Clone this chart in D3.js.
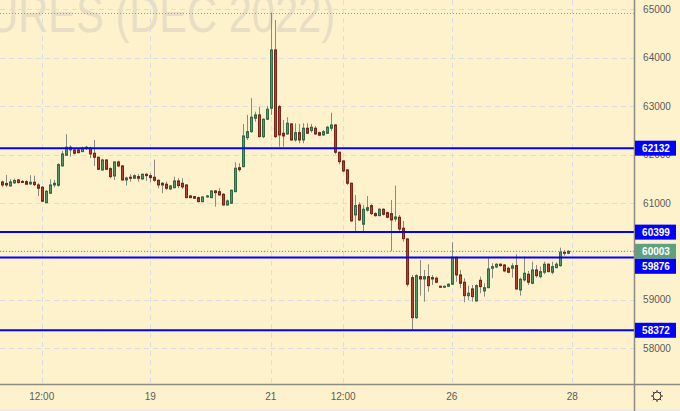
<!DOCTYPE html>
<html>
<head>
<meta charset="utf-8">
<script src="https://cdn.jsdelivr.net/npm/d3@7"></script>
<style>
  html, body { margin: 0; padding: 0; background: #fef2cd; }
  svg { display: block; font-family: "Liberation Sans", Arial, sans-serif; }
</style>
</head>
<body>
<svg id="chart" width="680" height="411"></svg>
<script>
// hourly candles
const opens = [61435,61404,61353,61415,61476,61446,61441,61394,61429,61373,61326,61008,61202,61373,61367,61766,61987,62096,62096,62096,
  62061,62137,62131,62028,61945,61683,61889,61710,61559,61848,61766,61476,61532,61512,61545,61497,61594,61565,61532,61470,
  61408,61388,61291,61317,61456,61408,61373,61146,61132,61111,61028,61125,61111,61249,61235,61181,60960,60995,61235,61730,
  61751,62350,62474,62751,62819,62371,62730,62957,64161,62990,62441,62426,62633,62302,62453,62302,62544,62495,62544,62453,
  62406,62441,62544,62612,62048,61869,61683,61408,60754,60960,60562,60851,60946,60781,60739,60871,60801,60781,60671,60706,
  60479,60258,59459,58633,59480,59432,59480,59459,59447,59281,59267,59281,59323,59880,59515,59364,59087,59226,58978,59405,
  59184,59252,59653,59680,59736,59721,59653,59653,59707,59205,59411,59529,59343,59618,59480,59570,59736,59570,59665,59707,
  59983,59963];
const highs = [61462,61580,61491,61503,61491,61476,61470,61574,61565,61408,61353,61270,61491,61476,61821,62075,62420,62193,62131,62131,
  62164,62179,62164,62302,61958,61916,61904,61739,61863,61875,61786,61545,61594,61594,61600,61607,61615,61615,61896,61483,
  61429,61441,61373,61545,61512,61512,61388,61167,61146,61132,61140,61167,61264,61270,61305,61202,61070,61276,61842,61821,
  62633,62819,63164,62887,62990,62751,63005,64931,64780,63025,62715,62771,62647,62647,62633,62647,62647,62633,62592,62474,
  62509,62592,62866,62627,62061,61883,61704,61421,61167,61016,60960,61146,60975,60809,60892,60892,60822,61063,61359,60754,
  60630,60279,59515,59529,59824,59618,59736,59515,59480,59294,59294,59343,60190,59893,59618,59447,59294,59308,59323,59480,
  59343,59860,59756,59756,59756,59736,59686,59756,59942,59459,59893,59597,59789,59721,59686,59789,59756,59789,59777,60078,
  60031,60025];
const lows = [61326,61332,61338,61400,61408,61421,61379,61373,61353,61146,61028,60995,61195,61326,61338,61751,61980,61958,61999,62028,
  62055,62096,61925,61766,61683,61669,61683,61512,61476,61739,61462,61359,61441,61497,61441,61483,61456,61429,61441,61305,
  61202,61270,61270,61305,61305,61291,61099,61099,61084,61016,61016,61111,61099,60925,61152,60946,60946,60987,61222,61648,
  61735,62302,62453,62680,62358,62338,62715,62819,62344,62164,62164,62406,62288,62267,62234,62234,62426,62453,62406,62385,
  62385,62426,62488,62007,61801,61635,61373,60615,60423,60630,60423,60822,60754,60719,60727,60739,60686,60010,60615,60409,
  60202,59273,58385,58606,59087,58963,59170,59308,59343,59252,59252,59267,59308,59376,59240,58951,58998,58963,58963,59137,
  59067,59240,59447,59653,59686,59570,59550,59459,59205,59087,59376,59308,59323,59459,59447,59529,59570,59529,59653,59686,
  59913,59942];
const closes = [61373,61373,61435,61466,61421,61435,61388,61429,61379,61305,61037,61243,61373,61408,61792,62013,62152,62152,62028,62040,
  62131,62152,62013,61945,61697,61889,61697,61545,61848,61766,61476,61518,61512,61565,61512,61594,61565,61524,61470,61373,
  61373,61305,61353,61456,61359,61332,61111,61111,61099,61028,61125,61146,61249,61214,61167,60960,61043,61264,61718,61689,
  62385,62474,62771,62819,62371,62730,62936,64161,62371,62406,62385,62647,62302,62453,62302,62544,62441,62565,62426,62400,
  62474,62565,62612,62048,61854,61662,61408,60630,60946,60650,60871,60904,60781,60739,60871,60768,60706,60650,60712,60465,
  60264,59323,58633,59500,59432,59480,59294,59432,59364,59267,59281,59323,59880,59515,59343,59087,59137,59067,59294,59273,
  59252,59639,59686,59736,59707,59597,59570,59701,59226,59426,59550,59364,59618,59500,59583,59736,59583,59686,59736,59983,
  59963,60003];

const tickIdx = [10, 37, 67, 85, 112, 142];
const tickText = ['12:00', '19', '21', '12:00', '26', '28'];
const priceTicks = [58000, 59000, 60000, 61000, 62000, 63000, 64000, 65000];
const levels = [62132, 60399, 59876, 58372];
const lastPrice = 60003;
const watermark = 'FUTURES (DEC 2022)';

const W = 680, H = 411;
const plotR = 634, plotB = 384;

const svg = d3.select('#chart');

const x = d3.scaleLinear().domain([0, 142]).range([1.5, 572.3]);
const y = d3.scaleLinear().domain([58000, 65000]).range([348.3, 9.3]);

svg.append('rect').attr('width', W).attr('height', H).attr('fill', '#fef2cd');
svg.append('rect').attr('x', 0).attr('y', 409).attr('width', W).attr('height', 2).attr('fill', '#e8ebf0');

svg.append('defs').append('clipPath').attr('id', 'plot')
  .append('rect').attr('width', plotR).attr('height', plotB);

const plot = svg.append('g').attr('clip-path', 'url(#plot)');

// watermark (condensed, top cut by the pane edge)
plot.append('text')
  .attr('transform', 'translate(335,32) scale(0.8,1)')
  .attr('text-anchor', 'end')
  .attr('font-size', 52)
  .attr('fill', '#e8dec3')
  .text(watermark);

// grid
plot.append('g').selectAll('line').data(priceTicks).enter().append('line')
  .attr('x1', 0).attr('x2', plotR)
  .attr('y1', d => Math.round(y(d)) + 0.5).attr('y2', d => Math.round(y(d)) + 0.5)
  .attr('stroke', '#dcdde2').attr('stroke-dasharray', '5,4');

plot.append('g').selectAll('line').data(tickIdx).enter().append('line')
  .attr('x1', d => Math.round(x(d)) + 0.5).attr('x2', d => Math.round(x(d)) + 0.5)
  .attr('y1', 0).attr('y2', plotB)
  .attr('stroke', '#dcdde2').attr('stroke-dasharray', '5,4');

// session high line
const hi = d3.max(highs);
plot.append('line')
  .attr('x1', 0).attr('x2', plotR)
  .attr('y1', Math.round(y(hi)) + 0.5).attr('y2', Math.round(y(hi)) + 0.5)
  .attr('stroke', '#9a9a90').attr('stroke-dasharray', '1,2');

// last price line
plot.append('line')
  .attr('x1', 0).attr('x2', plotR)
  .attr('y1', y(lastPrice)).attr('y2', y(lastPrice))
  .attr('stroke', '#4f9c87').attr('stroke-dasharray', '1,2');

// candles
const idx = d3.range(opens.length);
const candles = plot.append('g');

candles.selectAll('line').data(idx).enter().append('line')
  .attr('x1', i => Math.round(x(i)) + 0.5).attr('x2', i => Math.round(x(i)) + 0.5)
  .attr('y1', i => y(highs[i])).attr('y2', i => y(lows[i]))
  .attr('stroke', '#8b8a82');

candles.selectAll('rect').data(idx).enter().append('rect')
  .attr('x', i => Math.round(x(i)) - 0.5)
  .attr('width', 2)
  .attr('y', i => y(Math.max(opens[i], closes[i])))
  .attr('height', i => Math.max(1, Math.abs(y(opens[i]) - y(closes[i]))))
  .attr('fill', i => closes[i] >= opens[i] ? '#519b6b' : '#b9402f')
  .attr('stroke', i => closes[i] >= opens[i] ? '#2f6a45' : '#7a2417')
  .attr('stroke-width', 1);

// horizontal levels
plot.append('g').selectAll('line').data(levels).enter().append('line')
  .attr('x1', 0).attr('x2', plotR)
  .attr('y1', d => y(d)).attr('y2', d => y(d))
  .attr('stroke', '#0000ff').attr('stroke-width', 2);

// axis borders
svg.append('line').attr('x1', plotR + 0.5).attr('x2', plotR + 0.5).attr('y1', 0).attr('y2', H)
  .attr('stroke', '#8d8c84').attr('stroke-width', 1.5);
svg.append('line').attr('x1', 0).attr('x2', W).attr('y1', plotB + 0.5).attr('y2', plotB + 0.5)
  .attr('stroke', '#8d8c84').attr('stroke-width', 1.5);

// price axis
svg.append('g').selectAll('text').data(priceTicks).enter().append('text')
  .attr('x', 657).attr('y', d => y(d) + 3.5)
  .attr('text-anchor', 'middle')
  .attr('font-size', 10)
  .attr('fill', '#5b5b5b')
  .text(d => d);

// time axis
svg.append('g').selectAll('text').data(tickIdx).enter().append('text')
  .attr('x', d => x(d)).attr('y', 400)
  .attr('text-anchor', 'middle')
  .attr('font-size', 10)
  .attr('fill', '#5b5b5b')
  .text((d, i) => tickText[i]);

// price labels, pushed apart when they overlap
const boxH = 15;
const labels = levels.map(v => ({ v, c: '#0000ff' }))
  .concat([{ v: lastPrice, c: '#5fa17f' }])
  .map(d => Object.assign(d, { cy: y(d.v) }))
  .sort((a, b) => a.cy - b.cy);
let prevBottom = -Infinity;
labels.forEach(d => {
  let top = d.cy - boxH / 2;
  if (top < prevBottom) top = prevBottom;
  d.top = top;
  prevBottom = top + boxH;
});

const lab = svg.append('g').selectAll('g').data(labels).enter().append('g');
lab.append('rect')
  .attr('x', plotR + 1).attr('y', d => d.top)
  .attr('width', 41).attr('height', boxH)
  .attr('fill', d => d.c);
lab.append('text')
  .attr('x', 656).attr('y', d => d.top + 11)
  .attr('text-anchor', 'middle')
  .attr('font-size', 10).attr('font-weight', 'bold')
  .attr('fill', '#ffffff')
  .text(d => d.v);

// settings icon
const gear = svg.append('g').attr('transform', 'translate(657,396)')
  .attr('stroke', '#333').attr('fill', 'none');
gear.append('circle').attr('r', 4);
d3.range(8).forEach(k => {
  const a = k * Math.PI / 4;
  gear.append('line')
    .attr('x1', Math.cos(a) * 4).attr('y1', Math.sin(a) * 4)
    .attr('x2', Math.cos(a) * 6).attr('y2', Math.sin(a) * 6);
});
</script>
</body>
</html>
